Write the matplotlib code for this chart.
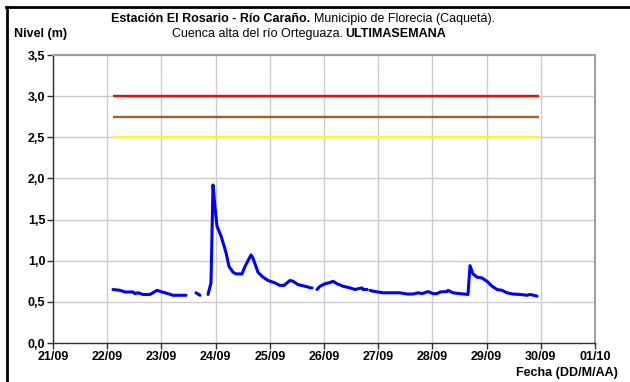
import numpy as np
import matplotlib
matplotlib.use("Agg")
import matplotlib.pyplot as plt
from matplotlib.lines import Line2D

plt.rcParams['font.family'] = ['Liberation Sans', 'DejaVu Sans']

# x values: days since 21/09 00:00 ; NaN marks a gap in the record
days = [1.107, 1.236, 1.328, 1.476, 1.513, 1.568, 1.661, 1.790, 1.919, 2.011, 2.122, 2.214, 2.343, 2.454,
        np.nan, 2.638, 2.712,
        np.nan, 2.860, 2.915, 2.952, 2.989, 3.026, 3.100, 3.192, 3.247, 3.321, 3.376, 3.487, 3.542, 3.653,
        3.690, 3.782, 3.875, 3.967, 4.096, 4.188, 4.262, 4.373, 4.428, 4.520, 4.649, 4.760, 4.779,
        np.nan, 4.871, 4.926, 5.018, 5.111, 5.166, 5.240, 5.351, 5.480, 5.572, 5.701, 5.720, 5.793,
        np.nan, 5.849, 5.904, 6.089, 6.402, 6.531, 6.642, 6.734, 6.808, 6.919, 7.011, 7.085, 7.140, 7.269,
        7.288, 7.380, 7.509, 7.657, 7.694, 7.749, 7.823, 7.915, 8.007, 8.100, 8.192, 8.284, 8.376, 8.487,
        8.616, 8.745, 8.801, 8.930]
nivel = [0.65, 0.64, 0.62, 0.62, 0.60, 0.61, 0.59, 0.59, 0.64, 0.62, 0.60, 0.58, 0.58, 0.58,
         np.nan, 0.61, 0.58,
         np.nan, 0.59, 0.73, 1.92, 1.65, 1.42, 1.30, 1.10, 0.93, 0.86, 0.84, 0.84, 0.93, 1.07,
         1.03, 0.86, 0.80, 0.76, 0.73, 0.70, 0.70, 0.76, 0.75, 0.71, 0.69, 0.67, 0.67,
         np.nan, 0.65, 0.69, 0.72, 0.735, 0.75, 0.72, 0.69, 0.67, 0.65, 0.67, 0.65, 0.65,
         np.nan, 0.64, 0.63, 0.61, 0.61, 0.595, 0.595, 0.61, 0.60, 0.625, 0.60, 0.60, 0.62, 0.625,
         0.64, 0.61, 0.60, 0.59, 0.94, 0.84, 0.80, 0.79, 0.75, 0.69, 0.65, 0.64, 0.61, 0.595,
         0.59, 0.58, 0.59, 0.57]

# alert thresholds
umbral_niveles = [3.0, 2.75, 2.5]
umbral_colores = ['#ff0000', '#a0622d', '#ffff00']
umbral_inicio = 1.11
umbral_fin = 8.97

x_ticks = list(range(0, 11))
x_labels = ['21/09', '22/09', '23/09', '24/09', '25/09', '26/09', '27/09', '28/09', '29/09', '30/09', '01/10']
y_ticks = [0.0, 0.5, 1.0, 1.5, 2.0, 2.5, 3.0, 3.5]
y_labels = ['0,0', '0,5', '1,0', '1,5', '2,0', '2,5', '3,0', '3,5']

fig = plt.figure(figsize=(6.3, 3.82), dpi=100)
ax = fig.add_axes([53/630, 1-343/382, (595-53)/630, (343-55)/382])

for lvl, col in zip(umbral_niveles, umbral_colores):
    ax.plot([umbral_inicio, umbral_fin], [lvl, lvl], color=col, lw=1.7, solid_capstyle='butt', zorder=3)

ax.plot(days, nivel, color='#0000ff', lw=2.2, zorder=4, solid_capstyle='round', solid_joinstyle='round')

ax.set_xlim(0, 10)
ax.set_ylim(0, 3.5)
ax.set_xticks(x_ticks)
ax.set_xticklabels(x_labels, fontsize=9, fontweight='bold')
ax.set_yticks(y_ticks)
ax.set_yticklabels(y_labels, fontsize=9, fontweight='bold')
ax.grid(True, color='#cccccc', lw=1.0, zorder=0)
ax.set_axisbelow(True)
ax.tick_params(axis='both', direction='out', length=4, width=1, color='#303030', pad=1.5)
for s in ['top', 'right']:
    ax.spines[s].set_color('#a0a0a0')
    ax.spines[s].set_linewidth(1.5)
for s in ['left', 'bottom']:
    ax.spines[s].set_color('#303030')
    ax.spines[s].set_linewidth(1.0)

# figure frame (left and top only)
fig.add_artist(Line2D([7/630, 7/630], [0, 1-7/382], transform=fig.transFigure, color='black', lw=2.0))
fig.add_artist(Line2D([6/630, 1], [1-7/382, 1-7/382], transform=fig.transFigure, color='black', lw=2.0))

# title with mixed weights
fig.canvas.draw()
renderer = fig.canvas.get_renderer()

def mixed_line(parts, xc, y, fs=9.0, gap=3.0):
    arts = []
    for txt, w in parts:
        t = fig.text(0, y, txt, fontsize=fs, fontweight=w, ha='left', va='baseline')
        arts.append(t)
    widths = [a.get_window_extent(renderer).width for a in arts]
    total = sum(widths) + gap * (len(arts) - 1)
    x = xc * 630 - total / 2
    for a, wdt in zip(arts, widths):
        a.set_x(x / 630)
        x += wdt + gap

mixed_line([('Estación El Rosario - Río Caraño.', 'bold'), ('Municipio de Florecia (Caquetá).', 'normal')],
           303/630, 1-22/382)
mixed_line([('Cuenca alta del río Orteguaza.', 'normal'), ('ULTIMASEMANA', 'bold')],
           309/630, 1-37/382)

fig.text(14/630, 1-37/382, 'Nivel (m)', fontsize=9, fontweight='bold', ha='left', va='baseline')
fig.text(618/630, 1-376/382, 'Fecha (DD/M/AA)', fontsize=9, fontweight='bold', ha='right', va='baseline')

fig.savefig('out.png', dpi=100)
